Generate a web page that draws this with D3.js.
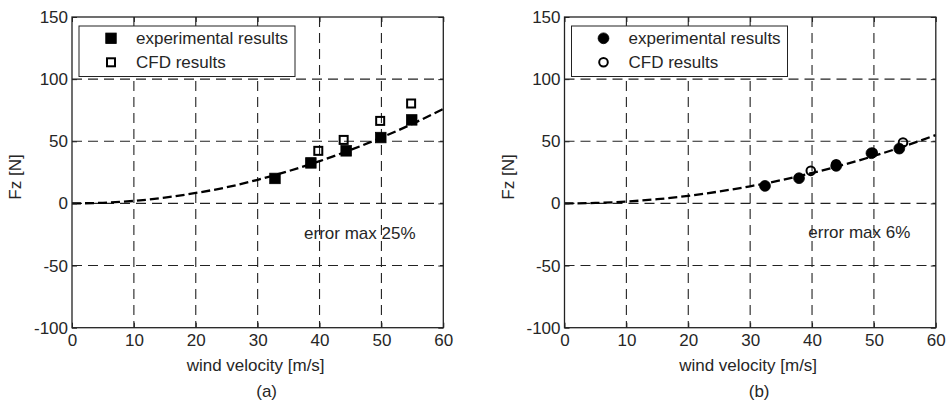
<!DOCTYPE html>
<html>
<head>
<meta charset="utf-8">
<script src="https://cdn.jsdelivr.net/npm/d3@7"></script>
<style>
  html, body { margin: 0; padding: 0; background: #fff; }
  svg { display: block; font-family: "Liberation Sans", Arial, sans-serif; }
</style>
</head>
<body>
<svg id="chart" width="948" height="403"></svg>
<script>
// ---- data ----
const velocityTicks = [0, 10, 20, 30, 40, 50, 60];
const forceTicks = [-100, -50, 0, 50, 100, 150];

// panel (a): square markers
const expVelA   = [32.8, 38.6, 44.3, 49.9, 54.9];
const expForceA = [20.1, 32.6, 42.3, 53.0, 67.2];
const cfdVelA   = [39.8, 43.9, 49.8, 54.8];
const cfdForceA = [42.3, 51.1, 66.4, 80.4];

// panel (b): round markers
const expVelB   = [32.4, 37.9, 43.9, 49.6, 54.1];
const expForceB = [14.1, 20.3, 30.2, 40.4, 44.1];
const cfdVelB   = [39.8, 43.9, 49.8, 54.7];
const cfdForceB = [26.2, 31.5, 40.8, 49.0];

// dashed trend curves
const fitVel    = [0, 5, 10, 15, 20, 25, 30, 35, 40, 45, 50, 55, 60];
const fitForceA = [0, 0.5, 2.0, 4.7, 8.4, 13.0, 19.0, 26.0, 34.0, 43.0, 53.0, 64.0, 76.0];
const fitForceB = [0, 0.4, 1.5, 3.4, 6.1, 9.6, 13.8, 18.7, 24.5, 31.0, 38.2, 46.2, 55.0];

const legendLabels = ["experimental results", "CFD results"];
const errorLabels  = ["error max 25%", "error max 6%"];
const panelLabels  = ["(a)", "(b)"];
const xTitle = "wind velocity [m/s]";
const yTitle = "Fz [N]";

// ---- layout ----
const svg = d3.select("#chart");
const plotTop = 17, plotBottom = 327.7, plotW = 371.3;
const ink = "#262626";
const fontSize = 17;
const plainNumber = d => String(d);   // hyphen-minus, as in the original axes

const panels = [
  { left: 72,    shape: "square", exp: d3.zip(expVelA, expForceA), cfd: d3.zip(cfdVelA, cfdForceA),
    fit: d3.zip(fitVel, fitForceA), err: errorLabels[0], tag: panelLabels[0], errAt: [37.5, -28.5] },
  { left: 564.5, shape: "circle", exp: d3.zip(expVelB, expForceB), cfd: d3.zip(cfdVelB, cfdForceB),
    fit: d3.zip(fitVel, fitForceB), err: errorLabels[1], tag: panelLabels[1], errAt: [39.4, -27.5] }
];

function marker(sel, shape, filled) {
  if (shape === "square") {
    const s = filled ? 10.5 : 8;
    sel.append("rect")
      .attr("x", -s / 2).attr("y", -s / 2).attr("width", s).attr("height", s)
      .attr("fill", filled ? "#000" : "none")
      .attr("stroke", "#000").attr("stroke-width", filled ? 0.8 : 2);
  } else {
    sel.append("circle")
      .attr("r", filled ? 5.4 : 4.3)
      .attr("fill", filled ? "#000" : "none")
      .attr("stroke", "#000").attr("stroke-width", filled ? 0.8 : 2);
  }
}

panels.forEach(p => {
  const x = d3.scaleLinear().domain([0, 60]).range([p.left, p.left + plotW]);
  const y = d3.scaleLinear().domain([-100, 150]).range([plotBottom, plotTop]);
  const g = svg.append("g");

  // annotation text (under the grid)
  g.append("text")
    .attr("x", x(p.errAt[0])).attr("y", y(p.errAt[1]))
    .attr("font-size", fontSize).attr("fill", ink)
    .text(p.err);

  // dashed grid
  const grid = g.append("g").attr("stroke", "#222").attr("stroke-width", 1.1)
    .attr("stroke-dasharray", "10,6").attr("fill", "none");
  grid.selectAll("line.v").data(velocityTicks.slice(1, -1)).join("line")
    .attr("x1", d => x(d)).attr("x2", d => x(d))
    .attr("y1", plotTop).attr("y2", plotBottom);
  grid.selectAll("line.h").data(forceTicks.slice(1, -1)).join("line")
    .attr("x1", x(0)).attr("x2", x(60))
    .attr("y1", d => y(d)).attr("y2", d => y(d));

  // trend curve
  g.append("path")
    .datum(p.fit)
    .attr("fill", "none").attr("stroke", "#000").attr("stroke-width", 2.3)
    .attr("stroke-dasharray", "9,4")
    .attr("d", d3.line().x(d => x(d[0])).y(d => y(d[1])).curve(d3.curveMonotoneX));

  // CFD markers (open), then experimental (filled) on top
  g.selectAll("g.cfd").data(p.cfd).join("g")
    .attr("transform", d => `translate(${x(d[0])},${y(d[1])})`)
    .each(function () { marker(d3.select(this), p.shape, false); });
  g.selectAll("g.exp").data(p.exp).join("g")
    .attr("transform", d => `translate(${x(d[0])},${y(d[1])})`)
    .each(function () { marker(d3.select(this), p.shape, true); });

  // axes with inward ticks on all four sides
  const axisStyle = a => {
    a.select(".domain").remove();
    a.selectAll("line").attr("stroke", "#222").attr("stroke-width", 1);
    a.selectAll("text").attr("font-size", fontSize).attr("fill", ink)
      .attr("font-family", "Liberation Sans, Arial, sans-serif");
  };
  g.append("g").attr("transform", `translate(0,${plotBottom})`)
    .call(d3.axisBottom(x).tickValues(velocityTicks).tickFormat(plainNumber)
      .tickSizeInner(-5).tickSizeOuter(0).tickPadding(6))
    .call(axisStyle);
  g.append("g").attr("transform", `translate(0,${plotTop})`)
    .call(d3.axisTop(x).tickValues(velocityTicks).tickSizeInner(-5).tickSizeOuter(0).tickFormat(""))
    .call(axisStyle);
  g.append("g").attr("transform", `translate(${x(0)},0)`)
    .call(d3.axisLeft(y).tickValues(forceTicks).tickFormat(plainNumber)
      .tickSizeInner(-5).tickSizeOuter(0).tickPadding(4))
    .call(axisStyle);
  g.append("g").attr("transform", `translate(${x(60)},0)`)
    .call(d3.axisRight(y).tickValues(forceTicks).tickSizeInner(-5).tickSizeOuter(0).tickFormat(""))
    .call(axisStyle);

  // plot frame
  g.append("rect")
    .attr("x", x(0)).attr("y", plotTop).attr("width", plotW).attr("height", plotBottom - plotTop)
    .attr("fill", "none").attr("stroke", "#222").attr("stroke-width", 1.3);

  // legend
  const lg = g.append("g").attr("transform", `translate(${x(0) + 7},26)`);
  lg.append("rect").attr("width", 216).attr("height", 50.5)
    .attr("fill", "#fff").attr("stroke", "#222").attr("stroke-width", 1);
  legendLabels.forEach((lab, i) => {
    const row = lg.append("g").attr("transform", `translate(32,${12.3 + i * 24})`);
    marker(row, p.shape, i === 0);
    row.append("text").attr("x", 25).attr("dy", "0.36em")
      .attr("font-size", fontSize).attr("fill", ink).text(lab);
  });

  // axis titles
  const cx = x(30);
  g.append("text").attr("x", cx - 2).attr("y", 371)
    .attr("text-anchor", "middle").attr("font-size", fontSize).attr("fill", ink)
    .text(xTitle);
  g.append("text").attr("x", cx + 9).attr("y", 397)
    .attr("text-anchor", "middle").attr("font-size", fontSize).attr("fill", ink)
    .text(p.tag);
  g.append("text")
    .attr("transform", `translate(${x(0) - 51},177) rotate(-90)`)
    .attr("text-anchor", "middle").attr("font-size", fontSize).attr("fill", ink)
    .text(yTitle);
});
</script>
</body>
</html>
